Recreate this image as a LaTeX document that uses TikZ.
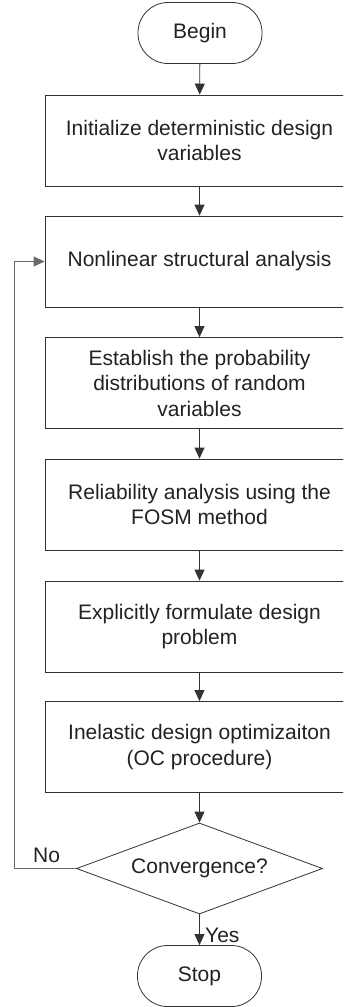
\documentclass[tikz,border=0pt]{standalone}
\usepackage{fontspec}
\setmainfont{Liberation Sans}
\usetikzlibrary{shapes.geometric,arrows.meta}
\definecolor{ln}{HTML}{333333}
\definecolor{fbc}{HTML}{6A6A6A}
\definecolor{tx}{HTML}{222222}
\begin{document}
\begin{tikzpicture}[x=1pt,y=-1pt,
  every node/.style={font=\fontsize{21}{25.5}\selectfont, text=tx},
  procbox/.style={draw=ln, line width=0.8pt, rectangle, minimum width=309pt, minimum height=91pt, align=center, inner sep=0pt},
  termbox/.style={draw=ln, line width=0.8pt, rectangle, rounded corners=30pt, minimum width=124pt, minimum height=61pt, inner sep=0pt},
  decbox/.style={draw=ln, line width=0.8pt, diamond, shape aspect=2.7, minimum width=246pt, minimum height=91pt, inner sep=0pt},
  flow/.style={draw=ln, line width=0.8pt, -{Triangle[length=11pt,width=10pt]}},
  fback/.style={draw=fbc, line width=0.9pt, -{Triangle[length=11pt,width=10pt]}},
  lbl/.style={inner sep=0pt, anchor=base west}
]
\useasboundingbox (0,0) rectangle (343,1007);
\clip (0,0) rectangle (343,1007);
\fill[white] (0,0) rectangle (343,1007);
\node[termbox] (begin) at (200,33) {Begin};
\node[procbox] (b1) at (199.5,140.5) {Initialize deterministic design\\variables};
\node[procbox] (b2) at (199.5,261.5) {Nonlinear structural analysis};
\node[procbox] (b3) at (199.5,383) {Establish the probability\\distributions of random\\variables};
\node[procbox] (b4) at (199.5,504.5) {Reliability analysis using the\\FOSM method};
\node[procbox] (b5) at (199.5,626.5) {Explicitly formulate design\\problem};
\node[procbox] (b6) at (199.5,747) {Inelastic design optimizaiton\\(OC procedure)};
\node[decbox] (dec) at (199.5,868.5) {Convergence?};
\node[termbox] (stop) at (199.5,976) {Stop};
\coordinate (fb) at (14,868.5);
\draw[flow] (begin) -- (b1);
\draw[flow] (b1) -- (b2);
\draw[flow] (b2) -- (b3);
\draw[flow] (b3) -- (b4);
\draw[flow] (b4) -- (b5);
\draw[flow] (b5) -- (b6);
\draw[flow] (b6) -- (dec);
\draw[flow] (dec) -- (stop);
\draw[fback] (dec.west) -- (fb) |- (b2.west);
\node[lbl] (yes) at (205,942) {Yes};
\node[lbl] (no) at (33,862) {No};
\end{tikzpicture}
\end{document}
